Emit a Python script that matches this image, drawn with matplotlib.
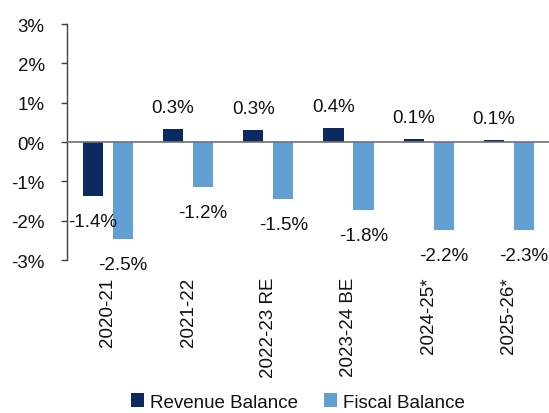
import matplotlib
matplotlib.use("Agg")
import matplotlib.pyplot as plt
import numpy as np

categories = ["2020-21", "2021-22", "2022-23 RE", "2023-24 BE", "2024-25*", "2025-26*"]
revenue_balance = [-1.37, 0.33, 0.30, 0.36, 0.07, 0.06]
fiscal_balance = [-2.47, -1.15, -1.45, -1.73, -2.24, -2.24]
revenue_labels = ["-1.4%", "0.3%", "0.3%", "0.4%", "0.1%", "0.1%"]
fiscal_labels = ["-2.5%", "-1.2%", "-1.5%", "-1.8%", "-2.2%", "-2.3%"]
yticks = [-3, -2, -1, 0, 1, 2, 3]
ytick_labels = ["-3%", "-2%", "-1%", "0%", "1%", "2%", "3%"]

dark = "#0b2a61"
light = "#629fd3"
txt = "#111111"

plt.rcParams['font.family'] = ['Liberation Sans', 'DejaVu Sans']

fig = plt.figure(figsize=(5.49, 4.14), dpi=100)
ax = fig.add_axes([67/549, 1-261/414, (549-67)/549, (261-25)/414])

x = np.arange(len(categories))
w = 0.25
off = 0.187
b1 = ax.bar(x - off, revenue_balance, w, color=dark, label="Revenue Balance", zorder=2)
b2 = ax.bar(x + off, fiscal_balance, w, color=light, label="Fiscal Balance", zorder=2)

fs = 13.5
for bars, labels in ((b1, revenue_labels), (b2, fiscal_labels)):
    for rect, lab in zip(bars, labels):
        h = rect.get_height()
        cx = rect.get_x() + rect.get_width() / 2
        dy = 15.5 if h >= 0 else -18.5
        ax.annotate(lab, (cx, h), xytext=(0, dy), textcoords="offset points",
                    ha="center", va="center", fontsize=fs, color=txt)

ax.axhline(0, color="#707070", lw=1.2, zorder=3)
ax.set_xlim(-0.51, 5.5)
ax.set_ylim(-3, 3)
ax.set_yticks(yticks)
ax.set_yticklabels(ytick_labels, fontsize=fs, color=txt)
ax.set_xticks(x)
ax.set_xticklabels(categories, rotation=90, fontsize=fs, va="top", color=txt)
ax.tick_params(axis="x", length=0, pad=12)
ax.tick_params(axis="y", length=4.5, width=1, color="#404040", pad=11.5, direction="out")
for s in ("top", "right", "bottom"):
    ax.spines[s].set_visible(False)
ax.spines["left"].set_color("#404040")
ax.spines["left"].set_linewidth(1)

leg = fig.legend(handles=[b1, b2], labels=["Revenue Balance", "Fiscal Balance"],
                 loc="center", bbox_to_anchor=(298/549, 1-403/414), ncol=2, frameon=False,
                 fontsize=fs, handlelength=0.7, handleheight=0.7, handletextpad=0.3,
                 columnspacing=1.4)
for t in leg.get_texts():
    t.set_color(txt)

fig.savefig("out.png", dpi=100)
